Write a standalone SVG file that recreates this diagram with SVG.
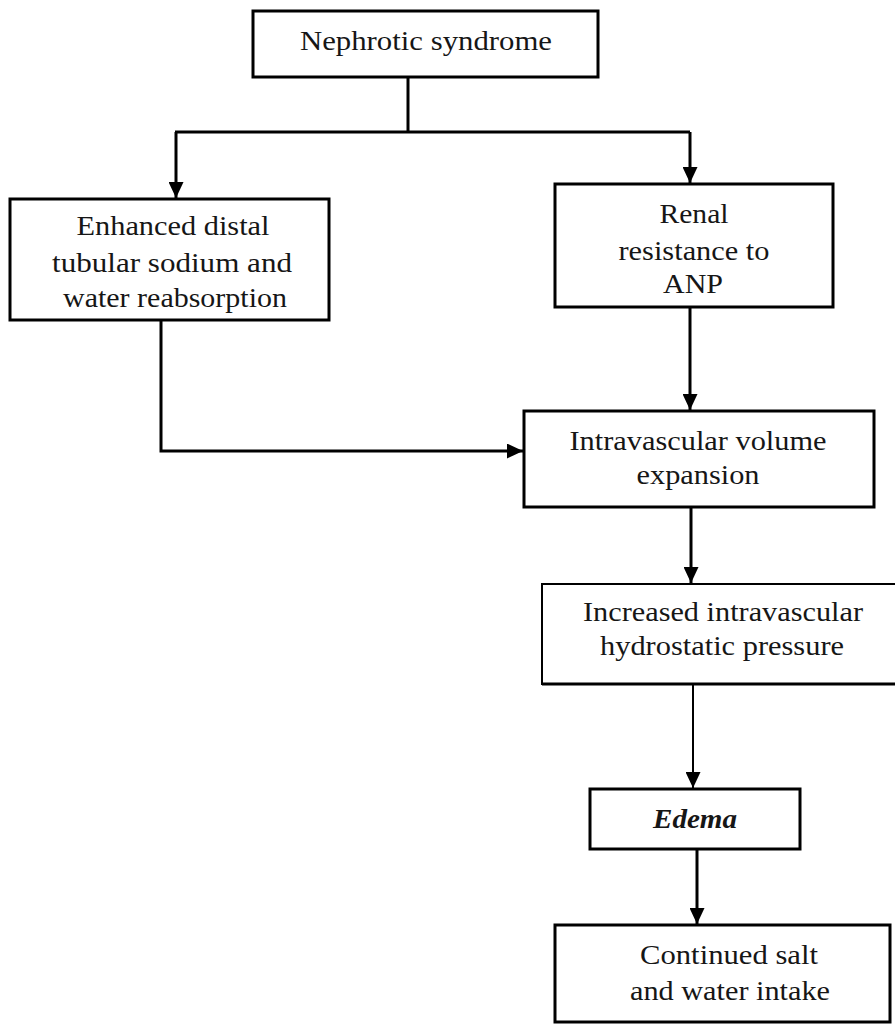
<svg xmlns="http://www.w3.org/2000/svg" width="895" height="1028" viewBox="0 0 895 1028">
<defs>
<marker id="ah" markerUnits="userSpaceOnUse" markerWidth="16" markerHeight="15" refX="16" refY="7.5" orient="auto">
<path d="M0,0 L16,7.5 L0,15 z" fill="#000"/>
</marker>
<style>
.box{fill:#fff;stroke:#000;stroke-width:3}
.thin{stroke-width:2}
.t{font-family:"Liberation Serif","Times New Roman",serif;font-size:27px;fill:#161616;text-anchor:middle}
.em{font-weight:bold;font-style:italic}
.c{fill:none;stroke:#000;stroke-width:3}
</style>
</defs>
<rect width="895" height="1028" fill="#fff"/>
<g id="connectors">
<path class="c" d="M408,77 V132"/>
<path class="c" d="M175,132 H690"/>
<path class="c" d="M176,132 V198" marker-end="url(#ah)"/>
<path class="c" d="M690,132 V183" marker-end="url(#ah)"/>
<path class="c" d="M690,307 V410" marker-end="url(#ah)"/>
<path class="c" d="M161,320 V451 H523" marker-end="url(#ah)"/>
<path class="c" d="M691,507 V583" marker-end="url(#ah)"/>
<path class="c" style="stroke-width:2" d="M693,684 V788" marker-end="url(#ah)"/>
<path class="c" d="M697,849 V924" marker-end="url(#ah)"/>
</g>
<g id="n-nephrotic">
<rect class="box" x="253" y="11" width="345" height="66"/>
<text class="t" x="426" y="50" textLength="252" lengthAdjust="spacingAndGlyphs">Nephrotic syndrome</text>
</g>
<g id="n-enhanced">
<rect class="box" x="10" y="199" width="319" height="121"/>
<text class="t" x="173" y="235" textLength="193" lengthAdjust="spacingAndGlyphs">Enhanced distal</text>
<text class="t" x="172" y="272" textLength="240" lengthAdjust="spacingAndGlyphs">tubular sodium and</text>
<text class="t" x="175" y="307" textLength="224" lengthAdjust="spacingAndGlyphs">water reabsorption</text>
</g>
<g id="n-renal">
<rect class="box" x="555" y="184" width="278" height="123"/>
<text class="t" x="694" y="223" textLength="69" lengthAdjust="spacingAndGlyphs">Renal</text>
<text class="t" x="694" y="260" textLength="151" lengthAdjust="spacingAndGlyphs">resistance to</text>
<text class="t" x="693" y="293" textLength="60" lengthAdjust="spacingAndGlyphs">ANP</text>
</g>
<g id="n-intravascular">
<rect class="box" x="524" y="411" width="350" height="96"/>
<text class="t" x="698" y="450" textLength="257" lengthAdjust="spacingAndGlyphs">Intravascular volume</text>
<text class="t" x="698" y="484" textLength="123" lengthAdjust="spacingAndGlyphs">expansion</text>
</g>
<g id="n-increased">
<path class="box thin" d="M900,584 H542 V684 H900"/>
<path d="M542,684 H900" stroke="#000" stroke-width="3"/>
<text class="t" x="723" y="621" textLength="280" lengthAdjust="spacingAndGlyphs">Increased intravascular</text>
<text class="t" x="722" y="655" textLength="244" lengthAdjust="spacingAndGlyphs">hydrostatic pressure</text>
</g>
<g id="n-edema">
<rect class="box" x="590" y="789" width="210" height="60"/>
<text class="t em" x="695" y="828" textLength="84" lengthAdjust="spacingAndGlyphs">Edema</text>
</g>
<g id="n-continued">
<rect class="box" x="555" y="925" width="335" height="97"/>
<text class="t" x="729" y="964" textLength="178" lengthAdjust="spacingAndGlyphs">Continued salt</text>
<text class="t" x="730" y="1000" textLength="200" lengthAdjust="spacingAndGlyphs">and water intake</text>
</g>
</svg>
